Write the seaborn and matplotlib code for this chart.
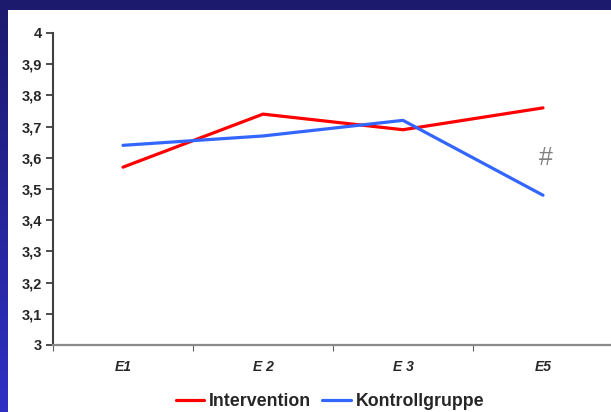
import numpy as np
import pandas as pd
import matplotlib
matplotlib.use("Agg")
import matplotlib.pyplot as plt
from matplotlib.patches import Rectangle
from matplotlib.lines import Line2D
from matplotlib.colors import LinearSegmentedColormap
import seaborn as sns

categories = ["E1", "E 2", "E 3", "E5"]
intervention = [3.57, 3.74, 3.69, 3.76]
kontroll = [3.64, 3.67, 3.72, 3.48]
series_names = ["Intervention", "Kontrollgruppe"]
y_ticks = [3, 3.1, 3.2, 3.3, 3.4, 3.5, 3.6, 3.7, 3.8, 3.9, 4]
y_tick_labels = ["3", "3,1", "3,2", "3,3", "3,4", "3,5", "3,6", "3,7", "3,8", "3,9", "4"]

sns.set_style("white")
plt.rcParams['font.family'] = ['Liberation Sans', 'DejaVu Sans']

W, H = 611, 412
fig = plt.figure(figsize=(W / 100, H / 100), dpi=100)

# background gradient
bg = fig.add_axes([0, 0, 1, 1])
grad = np.linspace(0, 1, 256).reshape(-1, 1)
cmap = LinearSegmentedColormap.from_list("bg", ["#1c1a6c", "#2f30c4"])
bg.imshow(grad, aspect="auto", cmap=cmap, extent=[0, 1, 0, 1], origin="upper")
bg.add_patch(Rectangle((8 / W, 0), 1, 1 - 10 / H, facecolor="white", edgecolor="none"))
bg.set_xlim(0, 1)
bg.set_ylim(0, 1)
bg.axis("off")

ax = fig.add_axes([53 / W, 1 - 345 / H, 560 / W, 312 / H])
ax.patch.set_alpha(0)

x = np.arange(len(categories))
df = pd.DataFrame({
    "x": np.concatenate([x, x]),
    "y": intervention + kontroll,
    "Gruppe": [series_names[0]] * len(x) + [series_names[1]] * len(x),
})
sns.lineplot(data=df, x="x", y="y", hue="Gruppe", palette=["#ff0000", "#3366ff"],
             linewidth=2.3, ax=ax, legend=False)

ax.set_xlim(-0.5, len(categories) - 0.5)
ax.set_ylim(3, 4)
ax.set_xlabel("")
ax.set_ylabel("")

ax.set_yticks(y_ticks)
ax.set_yticklabels(y_tick_labels, fontsize=10.5, fontweight="bold")
ax.set_xticks(np.arange(len(categories) + 1) - 0.5)
ax.set_xticklabels([""] * (len(categories) + 1))
ax.set_xticks(x, minor=True)
ax.set_xticklabels(categories, minor=True, fontsize=10, fontweight="bold", style="italic")
ax.tick_params(axis="x", which="major", bottom=True, length=4, width=0.8, color="#606060", direction="out")
ax.tick_params(axis="x", which="minor", bottom=True, length=0, pad=11)
ax.tick_params(axis="y", left=True, length=5, width=1.3, color="#404040", direction="out", pad=3)

for s in ["top", "right"]:
    ax.spines[s].set_visible(False)
ax.spines["left"].set_color("#404040")
ax.spines["left"].set_linewidth(1.5)
ax.spines["bottom"].set_color("#8a8a8a")
ax.spines["bottom"].set_linewidth(1.6)

ax.text(2.97, 3.6, "#", fontsize=18, color="#808080", ha="left", va="center",
        transform=ax.transData, fontfamily="Liberation Sans")

handles = [Line2D([], [], color="#ff0000", lw=2.3), Line2D([], [], color="#3366ff", lw=2.3)]
fig.legend(handles, series_names, loc="center", bbox_to_anchor=(330 / W, 1 - 402 / H),
           ncol=2, frameon=False, prop={"family": "Liberation Sans", "weight": "bold", "size": 12.8},
           handlelength=1.6, handletextpad=0.3, columnspacing=0.6)

fig.savefig("out.png", dpi=100)
